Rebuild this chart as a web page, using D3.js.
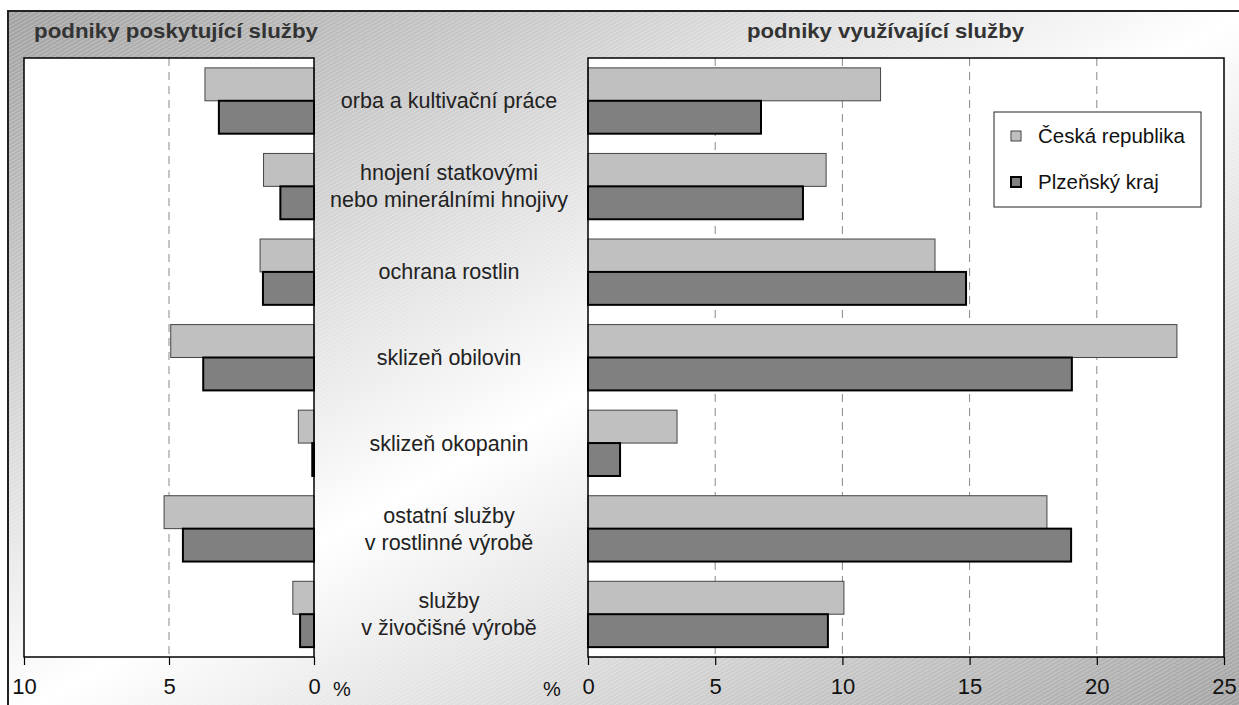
<!DOCTYPE html>
<html>
<head>
<meta charset="utf-8">
<script src="https://cdn.jsdelivr.net/npm/d3@7"></script>
<style>
  body { margin: 0; background: #fff; }
  svg text { font-family: "Liberation Sans", Arial, sans-serif; }
</style>
</head>
<body>
<div id="chart"></div>
<script>
// categories (multi-line labels), series and tick values
var categories = [
    ["orba a kultivační práce"],
    ["hnojení statkovými", "nebo minerálními hnojivy"],
    ["ochrana rostlin"],
    ["sklizeň obilovin"],
    ["sklizeň okopanin"],
    ["ostatní služby", "v rostlinné výrobě"],
    ["služby", "v živočišné výrobě"]
];
var seriesNames = ["Česká republika", "Plzeňský kraj"];
var provideCR = [3.76, 1.74, 1.86, 4.94, 0.54, 5.17, 0.73];
var providePK = [3.28, 1.16, 1.76, 3.82, 0.06, 4.52, 0.48];
var useCR = [11.5, 9.36, 13.64, 23.15, 3.5, 18.04, 10.06];
var usePK = [6.8, 8.45, 14.86, 19.02, 1.26, 18.99, 9.43];
var leftTicks = [10, 5, 0];
var rightTicks = [0, 5, 10, 15, 20, 25];
var panelTitles = ["podniky poskytující služby", "podniky využívající služby"];

var chart = {
    width: 1239,
    height: 705,
    top: 58,
    bottom: 657,
    colors: ["#c0c0c0", "#808080"],
    strokes: ["#444", "#000"],
    strokeW: [1, 2]
};

var svg = d3.select("#chart").append("svg")
    .attr("width", chart.width)
    .attr("height", chart.height);

var defs = svg.append("defs");
var grad = defs.append("linearGradient").attr("id", "bg")
    .attr("x1", 0).attr("y1", 0).attr("x2", 1).attr("y2", 1);
grad.append("stop").attr("offset", "0%").attr("stop-color", "#a2a2a2");
grad.append("stop").attr("offset", "50%").attr("stop-color", "#ffffff");
grad.append("stop").attr("offset", "100%").attr("stop-color", "#a2a2a2");

var hatch = defs.append("pattern").attr("id", "hatch")
    .attr("patternUnits", "userSpaceOnUse")
    .attr("width", 7).attr("height", 4);
hatch.append("path")
    .attr("d", "M0,4 L7,0")
    .attr("stroke", "#fff").attr("stroke-width", 0.6).attr("opacity", 0.45);

// outer frame
svg.append("rect")
    .attr("x", 8).attr("y", 11)
    .attr("width", 1240).attr("height", 710)
    .attr("fill", "url(#bg)")
    .attr("stroke", "#222").attr("stroke-width", 2);
svg.append("rect")
    .attr("x", 9).attr("y", 12)
    .attr("width", 1240).attr("height", 710)
    .attr("fill", "url(#hatch)");

var yBand = d3.scaleBand()
    .domain(d3.range(categories.length))
    .range([chart.top, chart.bottom])
    .padding(0);
var ySub = d3.scaleBand()
    .domain([0, 1])
    .range([0, yBand.bandwidth()])
    .paddingInner(0).paddingOuter(0.3);

function drawPanel(x, ticks, cr, pk) {
    var x0 = x(0);
    var r = x.range();
    var px = Math.min(r[0], r[1]), pw = Math.abs(r[1] - r[0]);
    var g = svg.append("g");

    g.append("rect")
        .attr("x", px).attr("y", chart.top)
        .attr("width", pw).attr("height", chart.bottom - chart.top)
        .attr("fill", "#fff");

    // dashed grid
    g.selectAll(".grid")
        .data(ticks.filter(function(t) { return t !== 0 && t !== d3.max(ticks); }))
        .enter().append("line")
        .attr("x1", function(d) { return x(d); })
        .attr("x2", function(d) { return x(d); })
        .attr("y1", chart.top).attr("y2", chart.bottom)
        .attr("stroke", "#888").attr("stroke-width", 1)
        .attr("stroke-dasharray", "8,6");

    [cr, pk].forEach(function(vals, s) {
        g.selectAll(".bar" + s)
            .data(vals)
            .enter().append("rect")
            .attr("x", function(d) { return Math.min(x(d), x0); })
            .attr("y", function(d, i) { return yBand(i) + ySub(s); })
            .attr("width", function(d) { return Math.abs(x(d) - x0); })
            .attr("height", ySub.bandwidth())
            .attr("fill", chart.colors[s])
            .attr("stroke", chart.strokes[s])
            .attr("stroke-width", chart.strokeW[s]);
    });

    g.append("rect")
        .attr("x", px).attr("y", chart.top)
        .attr("width", pw).attr("height", chart.bottom - chart.top)
        .attr("fill", "none")
        .attr("stroke", "#000").attr("stroke-width", 1.5);

    var axis = d3.axisBottom(x).tickValues(ticks).tickSize(8).tickPadding(13);
    var ax = g.append("g")
        .attr("transform", "translate(0," + chart.bottom + ")")
        .call(axis);
    ax.select(".domain").remove();
    ax.selectAll(".tick line").attr("stroke", "#000").attr("stroke-width", 1.2);
    ax.selectAll(".tick text")
        .attr("fill", "#111")
        .style("font-size", "22px");
}

var xLeft = d3.scaleLinear().domain([10, 0]).range([24, 314]);
var xRight = d3.scaleLinear().domain([0, 25]).range([588, 1224]);
drawPanel(xLeft, leftTicks, provideCR, providePK);
drawPanel(xRight, rightTicks, useCR, usePK);

// percent signs
svg.append("text").attr("x", 333).attr("y", 696).text("%")
    .style("font-size", "20px").attr("fill", "#111");
svg.append("text").attr("x", 543).attr("y", 696).text("%")
    .style("font-size", "20px").attr("fill", "#111");

// panel titles
svg.append("text").attr("x", 34).attr("y", 38)
    .text(panelTitles[0])
    .attr("textLength", 284).attr("lengthAdjust", "spacingAndGlyphs")
    .style("font-size", "21px").style("font-weight", "bold").attr("fill", "#333");
svg.append("text").attr("x", 747).attr("y", 38)
    .text(panelTitles[1])
    .attr("textLength", 277).attr("lengthAdjust", "spacingAndGlyphs")
    .style("font-size", "21px").style("font-weight", "bold").attr("fill", "#333");

// category labels between the panels
var labels = svg.append("g").selectAll("text")
    .data(categories)
    .enter().append("text")
    .attr("text-anchor", "middle")
    .attr("fill", "#222")
    .style("font-size", "21.5px");
labels.each(function(lines, i) {
    var cy = yBand(i) + yBand.bandwidth() / 2;
    var t = d3.select(this);
    lines.forEach(function(l, k) {
        t.append("tspan")
            .attr("x", 449)
            .attr("y", cy + (k - (lines.length - 1) / 2) * 27)
            .attr("dy", "0.35em")
            .text(l);
    });
});

// legend
var leg = svg.append("g");
leg.append("rect")
    .attr("x", 994).attr("y", 112).attr("width", 207).attr("height", 95)
    .attr("fill", "#fff").attr("stroke", "#222").attr("stroke-width", 1);
seriesNames.forEach(function(name, s) {
    var cy = 136 + s * 46;
    leg.append("rect")
        .attr("x", 1011).attr("y", cy - 5).attr("width", 10).attr("height", 10)
        .attr("fill", chart.colors[s])
        .attr("stroke", chart.strokes[s])
        .attr("stroke-width", chart.strokeW[s]);
    leg.append("text")
        .attr("x", 1038).attr("y", cy).attr("dy", "0.35em")
        .text(name)
        .style("font-size", "20.5px").attr("fill", "#111");
});
</script>
</body>
</html>
